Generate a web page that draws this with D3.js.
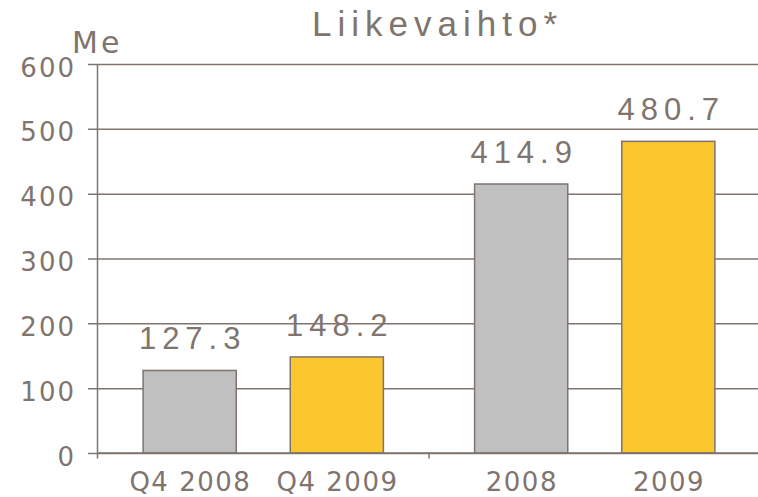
<!DOCTYPE html>
<html>
<head>
<meta charset="utf-8">
<script src="https://cdn.jsdelivr.net/npm/d3@7"></script>
<style>
    body { margin: 0; background: #fff; }
    text { font-family: "Liberation Sans", Arial, sans-serif; fill: #7f746e; }
    .round { font-family: "DejaVu Sans", sans-serif; }
</style>
</head>
<body>
<svg id="canvas" width="758" height="497"></svg>
<script>
// chart data
const categories = ["Q4 2008", "Q4 2009", "2008", "2009"];
const groups = ["Q4", "Q4", "Vuosi", "Vuosi"];
const years = ["2008", "2009", "2008", "2009"];
const values = [127.3, 148.2, 414.9, 480.7];
const yTicks = [0, 100, 200, 300, 400, 500, 600];

const data = categories.map((c, i) => ({
    name: c,
    group: groups[i],
    year: years[i],
    value: values[i]
}));

const svg = d3.select("#canvas");
const ink = "#7f746e";
const plotLeft = 97.5, plotRight = 760.5, plotTop = 64, plotBottom = 453;

const y = d3.scaleLinear().domain([0, 600]).range([plotBottom, plotTop]);
const xGroup = d3.scaleBand().domain(["Q4", "Vuosi"]).range([plotLeft, plotRight]);
const xBar = d3
    .scaleBand()
    .domain(["2008", "2009"])
    .range([0, xGroup.bandwidth()])
    .paddingInner(0.367)
    .paddingOuter(0.31);
const color = d3.scaleOrdinal().domain(["2008", "2009"]).range(["#c0c0c0", "#fcc62f"]);

// gridlines + tick labels
const yAxis = svg
    .append("g")
    .attr("transform", `translate(${plotLeft},0)`)
    .call(d3.axisLeft(y).tickValues(yTicks).tickSize(-(plotRight - plotLeft)).tickPadding(21.5));
yAxis.select(".domain").remove();
yAxis
    .selectAll(".tick line")
    .attr("x1", -9.5)
    .attr("stroke", ink)
    .attr("stroke-width", 1.5);
yAxis
    .selectAll(".tick text")
    .attr("class", "round")
    .attr("dy", 12)
    .style("font-size", "26px")
    .style("letter-spacing", "2px")
    .style("fill", ink);

// bars
svg
    .selectAll("rect.bar")
    .data(data)
    .enter()
    .append("rect")
    .attr("class", "bar")
    .attr("x", (d) => xGroup(d.group) + xBar(d.year))
    .attr("y", (d) => y(d.value))
    .attr("width", xBar.bandwidth())
    .attr("height", (d) => y(0) - y(d.value))
    .attr("fill", (d) => color(d.year))
    .attr("stroke", ink)
    .attr("stroke-width", 1.5);

// y axis line and group separators
svg
    .append("line")
    .attr("x1", plotLeft)
    .attr("x2", plotLeft)
    .attr("y1", plotTop)
    .attr("y2", plotBottom + 5.5)
    .attr("stroke", ink)
    .attr("stroke-width", 1.5);
svg
    .append("line")
    .attr("x1", plotLeft)
    .attr("x2", plotRight)
    .attr("y1", plotBottom)
    .attr("y2", plotBottom)
    .attr("stroke", ink)
    .attr("stroke-width", 1.5);
svg
    .selectAll("line.sep")
    .data(xGroup.domain().slice(1))
    .enter()
    .append("line")
    .attr("class", "sep")
    .attr("x1", (d) => xGroup(d))
    .attr("x2", (d) => xGroup(d))
    .attr("y1", plotBottom)
    .attr("y2", plotBottom + 5.5)
    .attr("stroke", ink)
    .attr("stroke-width", 1.5);

// value labels
svg
    .selectAll("text.value")
    .data(data)
    .enter()
    .append("text")
    .attr("class", "value")
    .attr("x", (d) => xGroup(d.group) + xBar(d.year) + xBar.bandwidth() / 2 + 3)
    .attr("y", (d) => y(d.value) - 21)
    .attr("text-anchor", "middle")
    .style("font-size", "31px")
    .style("letter-spacing", "6px")
    .text((d) => d3.format(".1f")(d.value));

// category labels
svg
    .selectAll("text.cat")
    .data(data)
    .enter()
    .append("text")
    .attr("class", "cat round")
    .attr("x", (d) => xGroup(d.group) + xBar(d.year) + xBar.bandwidth() / 2 + 0.7)
    .attr("y", 491)
    .attr("text-anchor", "middle")
    .style("font-size", "26px")
    .style("letter-spacing", "1.5px")
    .text((d) => d.name);

// title and unit
svg
    .append("text")
    .attr("x", 312)
    .attr("y", 36)
    .style("font-size", "35px")
    .style("letter-spacing", "6px")
    .text("Liikevaihto*");
svg
    .append("text")
    .attr("class", "round")
    .attr("x", 72)
    .attr("y", 53)
    .style("font-size", "30px")
    .style("letter-spacing", "3px")
    .text("Me");
</script>
</body>
</html>
